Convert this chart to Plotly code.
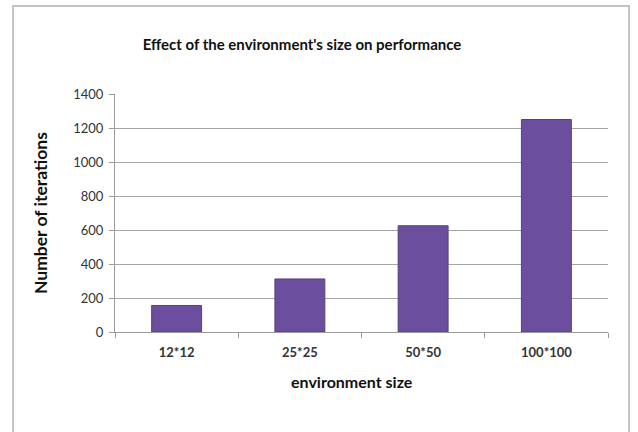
import plotly.graph_objects as go

categories = ["12*12", "25*25", "50*50", "100*100"]
iterations = [156, 312, 625, 1250]
y_ticks = [0, 200, 400, 600, 800, 1000, 1200, 1400]

title_text = "Effect of the environment's size on performance"
x_title = "environment size"
y_title = "Number of iterations"

FONT = "Lato, 'Open Sans', sans-serif"
L, R, T, B = 115, 30, 94, 100
W, H = 638, 432
pw, ph = W - L - R, H - T - B

def px(p):
    return (p - L) / pw

def py(p):
    return (H - B - p) / ph

fig = go.Figure()
fig.add_trace(go.Bar(
    x=categories, y=iterations,
    marker=dict(color="#6b4f9e", line=dict(color="#55407f", width=1)),
    hoverinfo="x+y",
))

fig.update_layout(
    width=W, height=H,
    margin=dict(l=L, r=R, t=T, b=B),
    paper_bgcolor="white", plot_bgcolor="white",
    bargap=0.595,
    showlegend=False,
    font=dict(family=FONT, color="#222"),
    title=dict(text="<b>" + title_text + "</b>", x=302 / W, y=1 - 45 / H,
               xanchor="center", yanchor="middle",
               font=dict(family=FONT, size=15, color="#111")),
    xaxis=dict(
        type="category", showline=True, linecolor="#9a9a9a", linewidth=1,
        ticks="outside", ticklen=5, tickcolor="#9a9a9a", tickson="boundaries",
        tickfont=dict(family=FONT, size=13, color="#333"),
        tickprefix="<b>", ticksuffix="</b>", ticklabelstandoff=8,
        showgrid=False, zeroline=False,
    ),
    yaxis=dict(
        range=[0, 1400], tickvals=y_ticks,
        showline=True, linecolor="#9a9a9a", linewidth=1,
        ticks="outside", ticklen=5, tickcolor="#9a9a9a",
        tickfont=dict(family=FONT, size=13, color="#333"),
        tickprefix="<b>", ticksuffix="</b>", ticklabelstandoff=3,
        showgrid=True, gridcolor="#a6a6a6", gridwidth=1, zeroline=False,
    ),
    annotations=[
        dict(text="<b>" + y_title + "</b>", xref="paper", yref="paper",
             x=px(40), y=0.5, textangle=-90, showarrow=False,
             xanchor="center", yanchor="middle",
             font=dict(family=FONT, size=17.5, color="#111")),
        dict(text="<b>" + x_title + "</b>", xref="paper", yref="paper",
             x=px(352), y=py(381), showarrow=False,
             xanchor="center", yanchor="middle",
             font=dict(family=FONT, size=16, color="#111")),
    ],
    shapes=[
        dict(type="rect", xref="paper", yref="paper",
             x0=px(13), x1=px(629), y0=py(440), y1=py(6),
             line=dict(color="#c4c4c4", width=2), layer="below"),
    ],
)

fig.write_html("out.html", config={"displayModeBar": False},
               post_script="document.body.style.margin='0';document.body.style.overflow='hidden';")
